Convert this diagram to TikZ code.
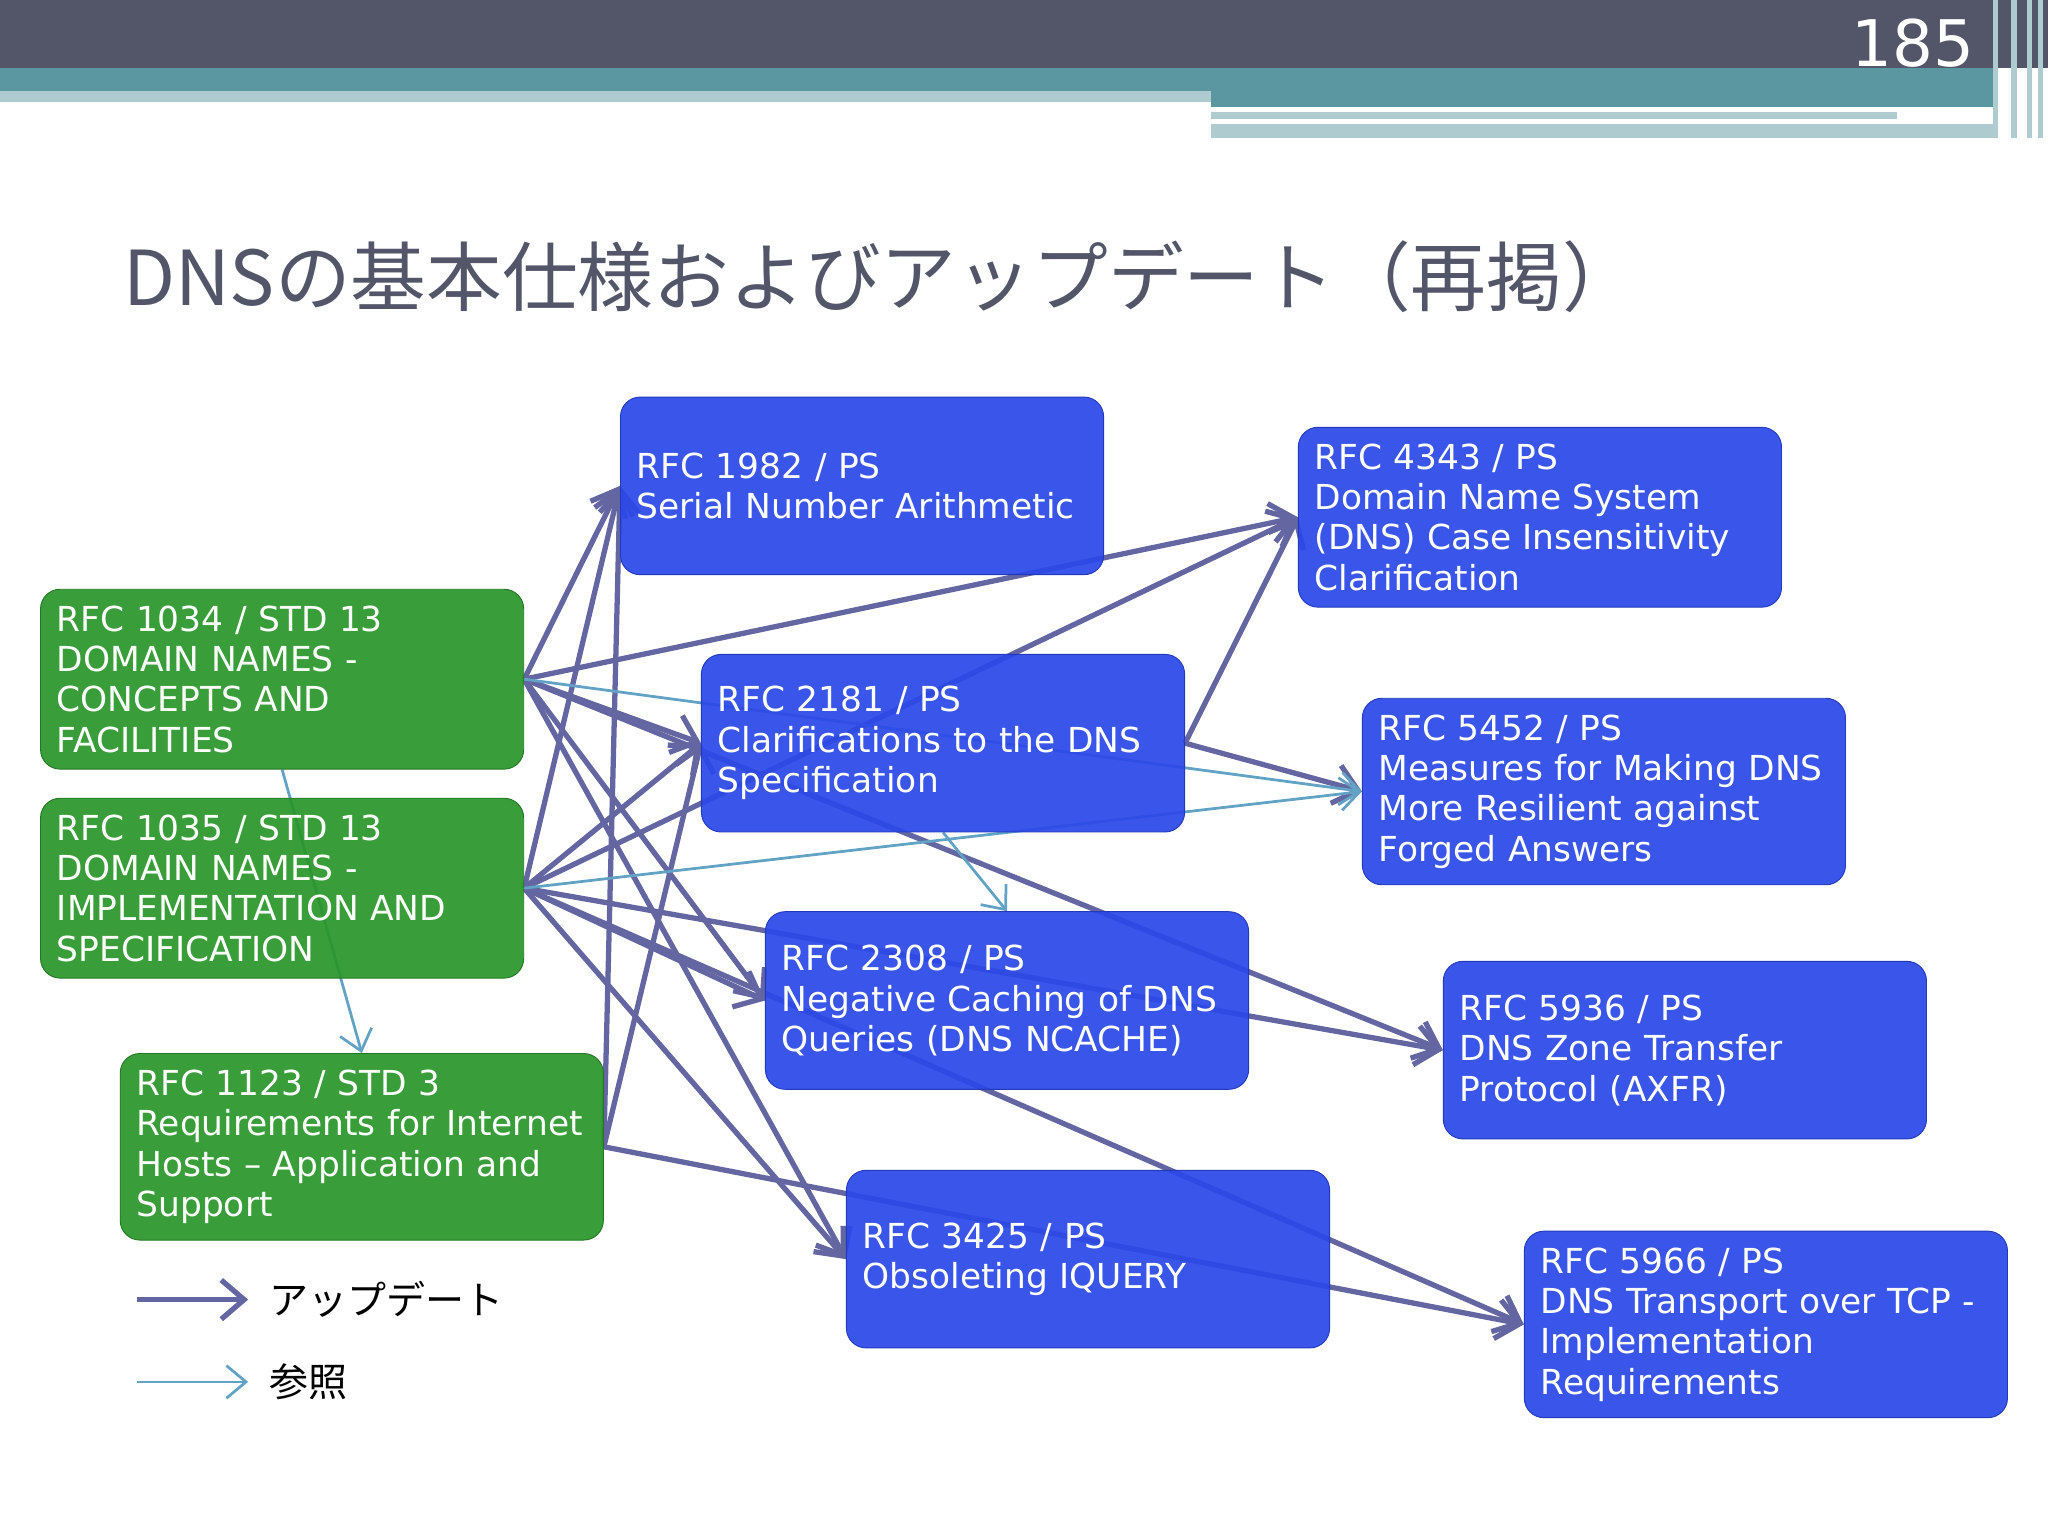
\documentclass[tikz,border=0pt]{standalone}
\usepackage{fontspec}
\setmainfont{DejaVu Sans}
\newfontfamily\cjk{Noto Sans CJK JP}
\usetikzlibrary{arrows.meta,positioning,backgrounds}
\definecolor{hdr}{HTML}{525668}
\definecolor{teal1}{HTML}{5B97A1}
\definecolor{teal2}{HTML}{AECBD0}
\definecolor{grn}{HTML}{2A962A}
\definecolor{blu}{HTML}{2B48E8}
\definecolor{upd}{HTML}{6466A2}
\definecolor{ref}{HTML}{62A2C4}
\tikzset{
  box/.style={draw, rectangle, rounded corners=0.3cm, minimum width=7.4cm, minimum height=2.72cm,
    text width=6.9cm, inner sep=0.25cm, align=left, text=white, fill opacity=0.93, text opacity=1,
    font=\fontsize{15}{17.6}\selectfont},
  old/.style={box, fill=grn, draw=grn!80!black},
  new/.style={box, fill=blu, draw=blu!80!black},
  upd/.style={draw=upd, line width=2.3pt, -{Straight Barb[length=3.5mm,width=6mm]}},
  ref/.style={draw=ref, line width=1.2pt, -{Straight Barb[length=3mm,width=5mm]}}
}
\begin{document}
\begin{tikzpicture}[x=0.02cm,y=-0.02cm]
    \useasboundingbox (0,0) rectangle (1568,1176);
    % header
    \fill [hdr] (0,0) rectangle (1568,52);
    \fill [teal1] (0,52) rectangle (1530,70);
    \fill [teal1] (927,70) rectangle (1530,82);
    \fill [teal2] (0,70) rectangle (927,78);
    \fill [teal2] (927,86) rectangle (1452,91);
    \fill [teal2] (927,95) rectangle (1530,106);
    \foreach \x in {1526,1540,1552,1560} \fill [teal2] (\x,0) rectangle ++(4,106);
    \node [text=white, font=\fontsize{28}{30}\selectfont, anchor=east] (page) at (1518,33) {185};
    \node [text=hdr, font=\cjk\fontsize{33}{36}\selectfont, anchor=west] (title) at (88,212) {DNSの基本仕様およびアップデート（再掲）};

    % documents
    \node [old] (r1034) at (216,520) {RFC 1034 / STD 13\\DOMAIN NAMES -\\CONCEPTS AND\\FACILITIES};
    \node [old] (r1035) at (216,680) {RFC 1035 / STD 13\\DOMAIN NAMES -\\IMPLEMENTATION AND\\SPECIFICATION};
    \node [old] (r1123) at (277,878) {RFC 1123 / STD 3\\Requirements for Internet\\Hosts -- Application and\\Support};
    \node [new] (r1982) at (660,372) {RFC 1982 / PS\\Serial Number Arithmetic};
    \node [new] (r2181) at (722,569) {RFC 2181 / PS\\Clarifications to the DNS\\Specification};
    \node [new] (r2308) at (771,766) {RFC 2308 / PS\\Negative Caching of DNS\\Queries (DNS NCACHE)};
    \node [new] (r3425) at (833,964) {RFC 3425 / PS\\Obsoleting IQUERY};
    \node [new] (r4343) at (1179,396) {RFC 4343 / PS\\Domain Name System\\(DNS) Case Insensitivity\\Clarification};
    \node [new] (r5452) at (1228,606) {RFC 5452 / PS\\Measures for Making DNS\\More Resilient against\\Forged Answers};
    \node [new] (r5936) at (1290,804) {RFC 5936 / PS\\DNS Zone Transfer\\Protocol (AXFR)};
    \node [new] (r5966) at (1352,1014) {RFC 5966 / PS\\DNS Transport over TCP -\\Implementation\\Requirements};

    % links
    \begin{scope}[on background layer]
    \foreach \a/\b in {r1034/r1982, r1034/r4343, r1034/r2181, r1034/r2308, r1034/r3425, r1034/r5936,
        r1035/r1982, r1035/r2181, r1035/r4343, r1035/r2308, r1035/r3425, r1035/r5936, r1035/r5966,
        r1123/r1982, r1123/r2181, r1123/r5966, r2181/r4343, r2181/r5452}
        \draw [upd] (\a.east) -- (\b.west);
    \draw [ref] (r1034.east) -- (r5452.west);
    \draw [ref] (r1035.east) -- (r5452.west);
    \draw [ref] (r1034.south) -- (r1123.north);
    \draw [ref] (r2181.south) -- (r2308.north);
    \end{scope}

    % legend
    \coordinate (lu1) at (105,995);
    \coordinate (lu2) at (190,995);
    \coordinate (lr1) at (105,1058);
    \coordinate (lr2) at (190,1058);
    \draw [upd] (lu1) -- (lu2);
    \draw [ref] (lr1) -- (lr2);
    \node [anchor=west, font=\cjk\fontsize{17}{20}\selectfont, text=black] (lupd) at (200,995) {アップデート};
    \node [anchor=west, font=\cjk\fontsize{17}{20}\selectfont, text=black] (lref) at (200,1058) {参照};
\end{tikzpicture}
\end{document}
